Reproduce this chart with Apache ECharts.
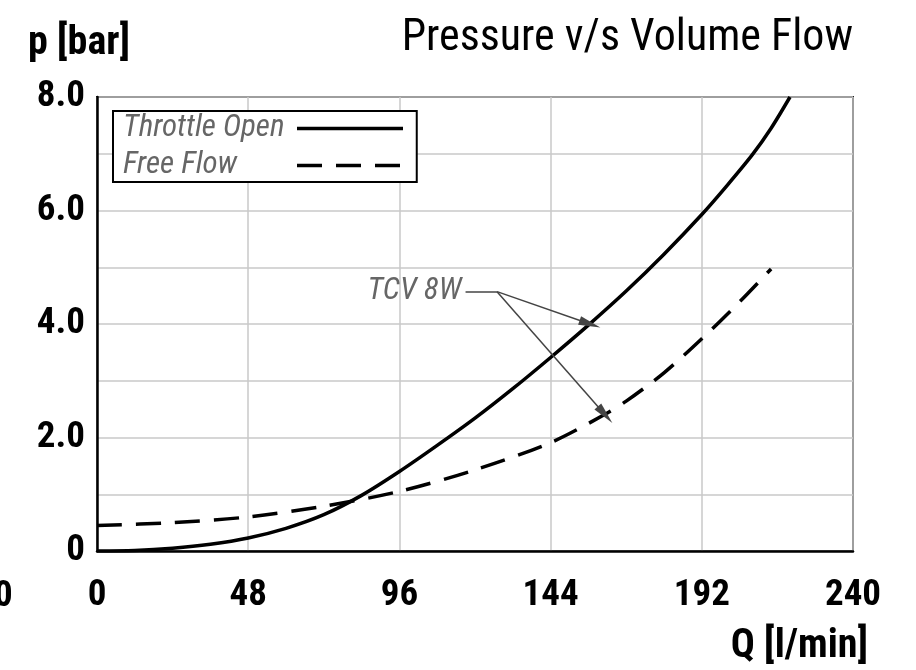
<!DOCTYPE html>
<html>
<head>
<meta charset="utf-8">
<script src="https://cdn.jsdelivr.net/npm/echarts@6/dist/echarts.min.js"></script>
<style>
  html, body { margin: 0; padding: 0; background: #fff; }
  #chart { width: 916px; height: 670px; }
</style>
</head>
<body>
<div id="chart"></div>
<script>
// values
const flowQ = [0, 12, 24, 36, 48, 60, 72, 84, 96, 108, 120, 132, 144, 156, 168, 180, 192, 200, 208, 214, 220];
const throttleOpen = [0, 0.01, 0.05, 0.12, 0.23, 0.40, 0.64, 0.98, 1.40, 1.86, 2.34, 2.86, 3.41, 3.98, 4.58, 5.23, 5.93, 6.44, 6.98, 7.45, 8.0];
const freeFlowQ = [0, 24, 48, 72, 96, 120, 144, 161, 168, 180, 192, 204, 214];
const freeFlow = [0.45, 0.50, 0.60, 0.79, 1.05, 1.43, 1.91, 2.40, 2.64, 3.14, 3.74, 4.39, 4.97];
const xTicks = [0, 48, 96, 144, 192, 240];
const yTickLabels = ['0', '', '2.0', '', '4.0', '', '6.0', '', '8.0'];

// callout "TCV 8W": label point, knee, arrow targets
const calloutLabelAt = [117, 4.57];
const calloutKnee = [127, 4.57];
const calloutTargets = [[156.5, 4.0], [161.3, 2.40]];

const FONT = "'Roboto Condensed', 'DejaVu Sans Condensed', sans-serif";

const chart = echarts.init(document.getElementById('chart'));

const arrowTo = function (pt) {
  return [{ coord: calloutKnee, symbol: 'none' }, { coord: pt, symbol: 'triangle', symbolSize: [9, 22] }];
};

chart.setOption({
  animation: false,
  backgroundColor: '#fff',
  title: [
    { text: 'Pressure v/s Volume Flow', right: 63, top: 17, padding: 0,
      textStyle: { fontFamily: FONT, fontSize: 44, fontWeight: 'normal', color: '#000' } },
    { text: 'p [bar]', left: 28, top: 24, padding: 0,
      textStyle: { fontFamily: FONT, fontSize: 40, fontWeight: 'bold', color: '#000' } },
    { text: 'Q [l/min]', right: 48, top: 627, padding: 0,
      textStyle: { fontFamily: FONT, fontSize: 40, fontWeight: 'bold', color: '#000' } }
  ],
  legend: {
    orient: 'vertical',
    left: 113,
    top: 111,
    align: 'right',
    padding: [2, 12, 1, 10],
    itemWidth: 106,
    itemHeight: 30,
    itemGap: 6,
    backgroundColor: '#fff',
    borderColor: '#000',
    borderWidth: 2,
    borderRadius: 0,
    itemStyle: { opacity: 0 },
    lineStyle: { width: 3.5 },
    formatter: '{a|{name}}',
    textStyle: {
      rich: {
        a: { width: 169, align: 'left', fontFamily: FONT, fontSize: 31, fontStyle: 'italic', color: '#666', lineHeight: 34 }
      }
    },
    data: ['Throttle Open', 'Free Flow']
  },
  grid: {
    left: 97, right: 63, top: 97, bottom: 119,
    show: true, borderColor: '#222', borderWidth: 2
  },
  xAxis: {
    type: 'value',
    min: 0, max: 240, interval: 48,
    axisLine: { show: true, lineStyle: { color: '#000', width: 2.5 } },
    axisTick: { show: false },
    splitLine: { show: true, lineStyle: { color: '#c8c8c8', width: 1.5 } },
    axisLabel: {
      margin: 26,
      fontFamily: FONT, fontSize: 37, fontWeight: 'bold', color: '#000',
      formatter: function (v) { return xTicks.indexOf(v) >= 0 ? String(v) : ''; }
    }
  },
  yAxis: {
    type: 'value',
    min: 0, max: 8, interval: 1,
    axisLine: { show: true, lineStyle: { color: '#000', width: 2.5 } },
    axisTick: { show: false },
    splitLine: { show: true, lineStyle: { color: '#c8c8c8', width: 1.5 } },
    axisLabel: {
      margin: 12,
      padding: [5, 0, 0, 0],
      fontFamily: FONT, fontSize: 37, fontWeight: 'bold', color: '#000',
      formatter: function (v) { return yTickLabels[v] || ''; }
    }
  },
  graphic: [
    { type: 'text', x: -6, y: 578, style: { text: '0', font: 'bold 37px ' + FONT, fill: '#000' } }
  ],
  series: [
    {
      name: 'Throttle Open',
      type: 'line',
      symbol: 'none',
      smooth: 0.3,
      data: flowQ.map(function (q, i) { return [q, throttleOpen[i]]; }),
      lineStyle: { color: '#000', width: 3.5 },
      itemStyle: { color: '#000' },
      markLine: {
        silent: true,
        animation: false,
        lineStyle: { color: '#444', width: 1.5, type: 'solid' },
        itemStyle: { color: '#444' },
        label: { show: false },
        data: [
          [
            { coord: calloutLabelAt, symbol: 'none',
              label: { show: true, position: 'start', distance: 4, formatter: 'TCV 8W',
                fontFamily: FONT, fontSize: 31, fontStyle: 'italic', color: '#666' } },
            { coord: calloutKnee, symbol: 'none' }
          ],
          arrowTo(calloutTargets[0]),
          arrowTo(calloutTargets[1])
        ]
      }
    },
    {
      name: 'Free Flow',
      type: 'line',
      symbol: 'none',
      smooth: 0.3,
      data: freeFlowQ.map(function (q, i) { return [q, freeFlow[i]]; }),
      lineStyle: { color: '#000', width: 3.5, type: [25, 14] },
      itemStyle: { color: '#000' }
    }
  ]
});
</script>
</body>
</html>
